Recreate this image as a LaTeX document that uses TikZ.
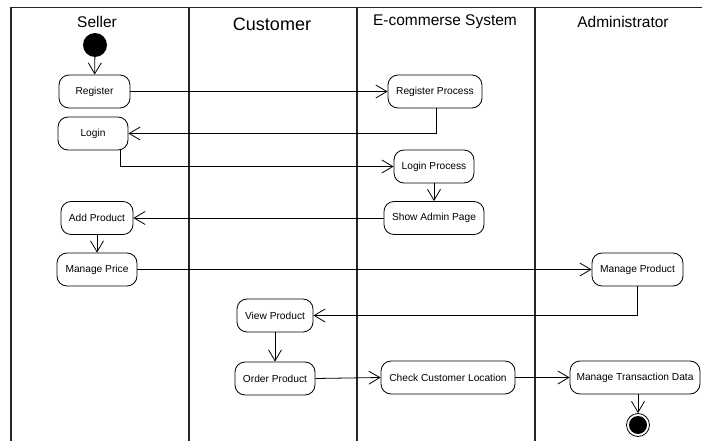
\documentclass[tikz,border=0pt]{standalone}
\usepackage{fontspec}
\setmainfont{Liberation Sans}
\usetikzlibrary{arrows.meta}
\begin{document}
\begin{tikzpicture}[x=1pt,y=-1pt,
  lane/.style={line width=1.2pt,draw=black!85},
  act/.style={draw,line width=0.8pt,rounded corners=10pt,minimum height=33pt,
    inner sep=0pt,font=\fontsize{10.2}{12}\selectfont},
  flow/.style={line width=0.8pt,-{Straight Barb[length=11pt,width=13pt]}},
  hdr/.style={font=\fontsize{15.5}{18}\selectfont}]
\useasboundingbox (0,0) rectangle (702,441);
% swimlane frame
\draw[lane] (11,441) -- (11,7.5) -- (702,7.5);
\draw[lane] (189,7.5) -- (189,441);
\draw[lane] (357,7.5) -- (357,441);
\draw[lane] (535,7.5) -- (535,441);
\node[hdr] (hs) at (97,22) {Seller};
\node[hdr,font=\fontsize{18}{21}\selectfont] (hc) at (272,24) {Customer};
\node[hdr] (he) at (445,22) {E-commerse System};
\node[hdr] (ha) at (623,22) {Administrator};
% start and end
\node[circle,fill=black,minimum size=24pt,inner sep=0pt] (start) at (95,45) {};
\node[circle,draw,line width=0.8pt,minimum size=23pt,inner sep=0pt] (stop) at (638,425) {};
\fill (stop.center) circle (9pt);
% activities
\node[act,minimum width=71pt] (reg) at (94.5,91.5) {Register};
\node[act,minimum width=70pt] (login) at (93,133.5) {Login};
\node[act,minimum width=94pt] (regp) at (435,91.5) {Register Process};
\node[act,minimum width=80pt] (logp) at (434,166.5) {Login Process};
\node[act,minimum width=100pt] (admin) at (434,218) {Show Admin Page};
\node[act,minimum width=72pt] (add) at (97,218) {Add Product};
\node[act,minimum width=80pt] (price) at (97,269.5) {Manage Price};
\node[act,minimum width=91pt] (mprod) at (637.5,269.5) {Manage Product};
\node[act,minimum width=76pt] (view) at (275,315.5) {View Product};
\node[act,minimum width=80pt] (order) at (275,378.5) {Order Product};
\node[act,minimum width=134pt] (check) at (448,377.5) {Check Customer Location};
\node[act,minimum width=130pt] (trans) at (635,377.5) {Manage Transaction Data};
% control flow
\draw[flow] (start) -- (reg);
\draw[flow] (reg) -- (regp);
\draw[flow] (regp.south) ++(1,0) |- (login.east);
\draw[flow] (login.south) ++(27,0) |- (logp.west);
\draw[flow] (logp.south) -- (admin.north);
\draw[flow] (admin.west) -- (add.east);
\draw[flow] (add.south) -- (price.north);
\draw[flow] (price.east) -- (mprod.west);
\draw[flow] (mprod.south) |- (view.east);
\draw[flow] (view.south) -- (order.north);
\draw[flow] (order.east) -- (check.west);
\draw[flow] (check.east) -- (trans.west);
\draw[flow] (trans.south -| stop) -- (stop.north);
\end{tikzpicture}
\end{document}
